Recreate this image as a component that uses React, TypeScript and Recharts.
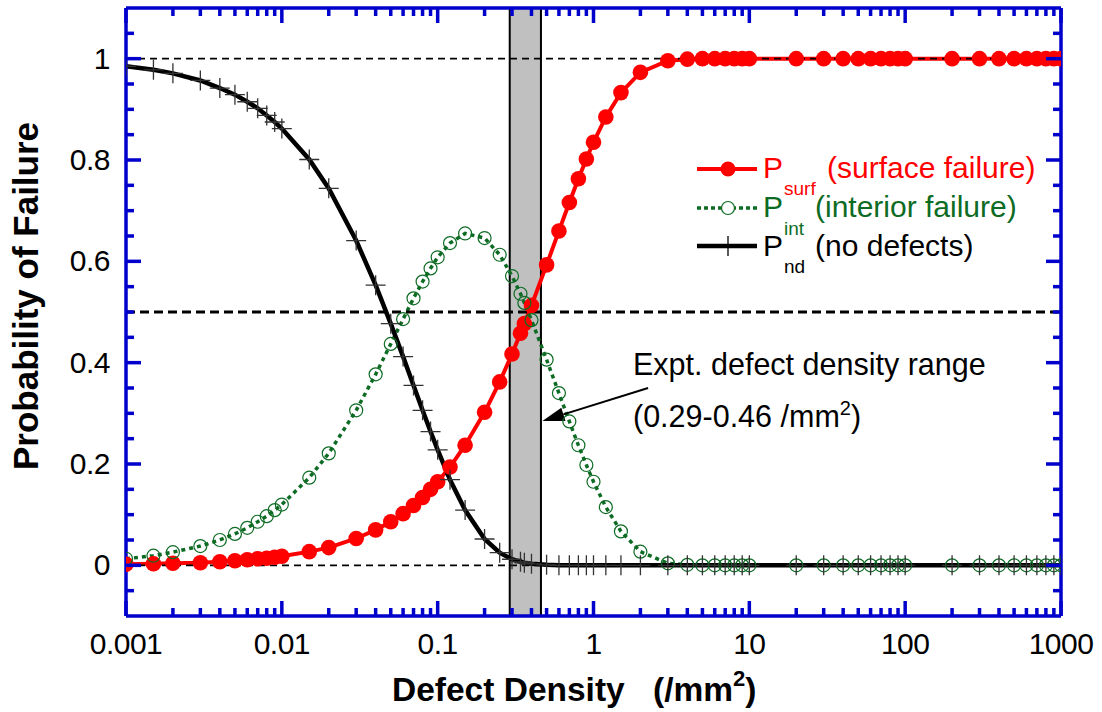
import React from "react";
import { LineChart, Line, XAxis, YAxis, ReferenceArea, ReferenceLine } from "recharts";

const FONT = "'Liberation Sans', Arial, sans-serif";
const BLUE = "#0000cc";
const RED = "#ff0000";
const GREEN = "#0d6b24";

// defect density (/mm2)
const density = [
  0.001, 0.0015, 0.002, 0.003, 0.004, 0.005, 0.006, 0.007, 0.008, 0.009, 0.01,
  0.015, 0.02,
  0.03, 0.04, 0.05, 0.06, 0.07, 0.08, 0.09, 0.1,
  0.12, 0.15, 0.2, 0.25, 0.3, 0.34, 0.36, 0.4,
  0.5, 0.6, 0.7, 0.8, 0.9, 1,
  1.2, 1.5, 2,
  3, 4, 5, 6, 7, 8, 9, 10,
  20, 30, 40, 50, 60, 70, 80, 90, 100,
  200, 300, 400, 500, 600, 700, 800, 900, 1000,
];

const pSurf = [
  0.002, 0.003, 0.004, 0.005, 0.007, 0.009, 0.011, 0.013, 0.014, 0.016, 0.018,
  0.027, 0.035,
  0.053, 0.07, 0.086, 0.102, 0.118, 0.134, 0.15, 0.165,
  0.194, 0.237, 0.302, 0.362, 0.417, 0.458, 0.477, 0.513,
  0.593, 0.66, 0.716, 0.763, 0.802, 0.835,
  0.885, 0.933, 0.973,
  0.996, 0.999, 1, 1, 1, 1, 1, 1,
  1, 1, 1, 1, 1, 1, 1, 1, 1,
  1, 1, 1, 1, 1, 1, 1, 1, 1,
];

const pInt = [
  0.013, 0.019, 0.026, 0.038, 0.05, 0.062, 0.074, 0.086, 0.097, 0.109, 0.12,
  0.173, 0.221,
  0.306, 0.377, 0.437, 0.486, 0.527, 0.56, 0.586, 0.608,
  0.636, 0.655, 0.646, 0.613, 0.571, 0.536, 0.518, 0.484,
  0.406, 0.34, 0.284, 0.237, 0.198, 0.165,
  0.115, 0.067, 0.027,
  0.004, 0.001, 0, 0, 0, 0, 0, 0,
  0, 0, 0, 0, 0, 0, 0, 0, 0,
  0, 0, 0, 0, 0, 0, 0, 0, 0,
];

const pNd = [
  0.985, 0.978, 0.971, 0.957, 0.942, 0.929, 0.915, 0.902, 0.888, 0.875, 0.862,
  0.801, 0.744,
  0.641, 0.553, 0.477, 0.412, 0.355, 0.306, 0.264, 0.228,
  0.169, 0.109, 0.052, 0.025, 0.012, 0.007, 0.005, 0.003,
  0.001, 0, 0, 0, 0, 0,
  0, 0, 0,
  0, 0, 0, 0, 0, 0, 0, 0,
  0, 0, 0, 0, 0, 0, 0, 0, 0,
  0, 0, 0, 0, 0, 0, 0, 0, 0,
];

const xMajor = [0.001, 0.01, 0.1, 1, 10, 100, 1000];
const xMinorSteps = [2, 3, 4, 5, 6, 7, 8, 9];
const yMajor = [0, 0.2, 0.4, 0.6, 0.8, 1];
const yMinor = [-0.05, 0.05, 0.1, 0.15, 0.25, 0.3, 0.35, 0.45, 0.5, 0.55, 0.65, 0.7, 0.75, 0.85, 0.9, 0.95, 1.05];

const xTicks = [
  ...xMajor,
  ...xMajor.slice(0, -1).flatMap((d) => xMinorSteps.map((k) => +(k * d).toPrecision(6))),
].sort((a, b) => a - b);
const yTicks = [...yMajor, ...yMinor].sort((a, b) => a - b);

const rows = density.map((x, i) => ({ x, surf: pSurf[i], int: pInt[i], nd: pNd[i] }));

const isMajor = (list: number[], v: number) => list.some((m) => Math.abs(m - v) < 1e-9);

const TICK_W = 3.5;

function BottomTick(props: any) {
  const { x, y, payload } = props;
  const major = isMajor(xMajor, payload.value);
  return (
    <g>
      <line x1={x} y1={y} x2={x} y2={y - (major ? 15 : 8)} stroke={BLUE} strokeWidth={TICK_W} />
      {major && (
        <text x={x} y={y + 38} textAnchor="middle" fontSize={30} letterSpacing={-0.5} fill="#000" fontFamily={FONT}>
          {String(payload.value)}
        </text>
      )}
    </g>
  );
}

function TopTick(props: any) {
  const { x, y, payload } = props;
  const major = isMajor(xMajor, payload.value);
  return <line x1={x} y1={y} x2={x} y2={y + (major ? 15 : 8)} stroke={BLUE} strokeWidth={TICK_W} />;
}

function LeftTick(props: any) {
  const { x, y, payload } = props;
  const major = isMajor(yMajor, payload.value);
  return (
    <g>
      <line x1={x} y1={y} x2={x + (major ? 15 : 8)} y2={y} stroke={BLUE} strokeWidth={TICK_W} />
      {major && (
        <text x={x - 16} y={y + 10} textAnchor="end" fontSize={30} letterSpacing={-0.5} fill="#000" fontFamily={FONT}>
          {String(payload.value)}
        </text>
      )}
    </g>
  );
}

function RightTick(props: any) {
  const { x, y, payload } = props;
  const major = isMajor(yMajor, payload.value);
  return <line x1={x} y1={y} x2={x - (major ? 15 : 8)} y2={y} stroke={BLUE} strokeWidth={TICK_W} />;
}

function SurfDot(props: any) {
  const { cx, cy, index } = props;
  return <circle key={"s" + index} cx={cx} cy={cy} r={7.8} fill={RED} />;
}

function IntDot(props: any) {
  const { cx, cy, index } = props;
  return <circle key={"i" + index} cx={cx} cy={cy} r={6.5} fill="none" stroke={GREEN} strokeWidth={1.2} />;
}

function PlusDot(props: any) {
  const { cx, cy, index } = props;
  return (
    <path
      key={"n" + index}
      d={`M${cx - 10},${cy}H${cx + 10}M${cx},${cy - 10}V${cy + 10}`}
      stroke="#333"
      strokeWidth={1.3}
      fill="none"
    />
  );
}

function Arrow(props: any) {
  const { x1, y1, x2, y2 } = props;
  const a = Math.atan2(y2 - y1, x2 - x1);
  const len = 22;
  const half = 7;
  const bx = x2 - len * Math.cos(a);
  const by = y2 - len * Math.sin(a);
  const px = -Math.sin(a) * half;
  const py = Math.cos(a) * half;
  return (
    <g>
      <line x1={x1} y1={y1} x2={bx} y2={by} stroke="#000" strokeWidth={2} />
      <polygon points={`${x2},${y2} ${bx + px},${by + py} ${bx - px},${by - py}`} fill="#000" />
    </g>
  );
}

export default function App() {
  return (
    <div style={{ position: "absolute", left: 0, top: 0, width: 1102, height: 712, background: "#fff", fontFamily: FONT }}>
      <LineChart width={1102} height={712} data={rows} margin={{ top: 7, right: 40, bottom: 95, left: 125 }}>
        <ReferenceArea x1={0.29} x2={0.46} y1={-0.1} y2={1.1} fill="#c0c0c0" fillOpacity={1} stroke="#000" strokeWidth={2} />
        <XAxis
          dataKey="x"
          type="number"
          scale="log"
          domain={[0.001, 1000]}
          allowDataOverflow
          ticks={xTicks}
          interval={0}
          height={1}
          tickSize={0}
          tickMargin={0}
          tickLine={false}
          tick={<BottomTick />}
          axisLine={{ stroke: BLUE, strokeWidth: 3.5 }}
        />
        <XAxis
          xAxisId="top"
          orientation="top"
          dataKey="x"
          type="number"
          scale="log"
          domain={[0.001, 1000]}
          allowDataOverflow
          ticks={xTicks}
          interval={0}
          height={1}
          tickSize={0}
          tickMargin={0}
          tickLine={false}
          tick={<TopTick />}
          axisLine={{ stroke: BLUE, strokeWidth: 3.5 }}
        />
        <YAxis
          type="number"
          domain={[-0.1, 1.1]}
          allowDataOverflow
          ticks={yTicks}
          interval={0}
          width={1}
          tickSize={0}
          tickMargin={0}
          tickLine={false}
          tick={<LeftTick />}
          axisLine={{ stroke: BLUE, strokeWidth: 3.5 }}
        />
        <YAxis
          yAxisId="right"
          orientation="right"
          type="number"
          domain={[-0.1, 1.1]}
          allowDataOverflow
          ticks={yTicks}
          interval={0}
          width={1}
          tickSize={0}
          tickMargin={0}
          tickLine={false}
          tick={<RightTick />}
          axisLine={{ stroke: BLUE, strokeWidth: 3.5 }}
        />
        <Line dataKey="surf" type="linear" stroke={RED} strokeWidth={4} dot={SurfDot} isAnimationActive={false} />
        <Line
          dataKey="int"
          type="linear"
          stroke={GREEN}
          strokeWidth={3.5}
          strokeDasharray="4 4"
          dot={IntDot}
          isAnimationActive={false}
        />
        <Line dataKey="nd" type="linear" stroke="#000" strokeWidth={4.5} dot={PlusDot} isAnimationActive={false} />
        <ReferenceLine y={1} stroke="#000" strokeWidth={1.6} strokeDasharray="7 5" />
        <ReferenceLine y={0} stroke="#000" strokeWidth={1.6} strokeDasharray="7 5" />
        <ReferenceLine y={0.5} stroke="#000" strokeWidth={3} strokeDasharray="9 5" />
        <ReferenceLine
          segment={[
            { x: 2.24, y: 0.35 },
            { x: 0.47, y: 0.285 },
          ]}
          shape={Arrow}
        />
      </LineChart>

      <svg
        width={1102}
        height={712}
        style={{ position: "absolute", left: 0, top: 0, pointerEvents: "none" }}
        fontFamily={FONT}
      >
        {/* axis titles */}
        <text x={38} y={296} transform="rotate(-90 38 296)" textAnchor="middle" fontSize={35} fontWeight="bold" fill="#000">
          Probability of Failure
        </text>
        <text x={392} y={701} fontSize={33.5} fontWeight="bold" fill="#000">
          Defect Density
          <tspan x={653}>(/mm</tspan>
          <tspan fontSize={22} dy={-15}>2</tspan>
          <tspan dy={15}>)</tspan>
        </text>

        {/* legend */}
        <line x1={697} y1={169} x2={757} y2={169} stroke={RED} strokeWidth={4} />
        <circle cx={728} cy={169} r={7.5} fill={RED} />
        <text x={763} y={178} fontSize={30} fill={RED}>P</text>
        <text x={784} y={195} fontSize={19} fill={RED}>surf</text>
        <text x={827} y={178} fontSize={30} fill={RED}>(surface failure)</text>

        <line x1={697} y1={208} x2={757} y2={208} stroke={GREEN} strokeWidth={3.5} strokeDasharray="4 3" />
        <circle cx={728} cy={208} r={6.5} fill="#fff" stroke={GREEN} strokeWidth={1.2} />
        <text x={763} y={217} fontSize={30} fill={GREEN}>P</text>
        <text x={784} y={235} fontSize={19} fill={GREEN}>int</text>
        <text x={815} y={217} fontSize={30} fill={GREEN}>(interior failure)</text>

        <line x1={697} y1={246} x2={757} y2={246} stroke="#000" strokeWidth={4.5} />
        <path d="M728,236V256" stroke="#000" strokeWidth={1.3} />
        <text x={763} y={256} fontSize={30} fill="#000">P</text>
        <text x={784} y={273} fontSize={19} fill="#000">nd</text>
        <text x={815} y={256} fontSize={30} fill="#000">(no defects)</text>

        {/* annotation */}
        <text x={633} y={375} fontSize={30.5} fill="#000">Expt. defect density range</text>
        <text x={633} y={427} fontSize={30.5} fill="#000">
          (0.29-0.46 /mm
          <tspan fontSize={20} dy={-12}>2</tspan>
          <tspan dy={12}>)</tspan>
        </text>
      </svg>
    </div>
  );
}
